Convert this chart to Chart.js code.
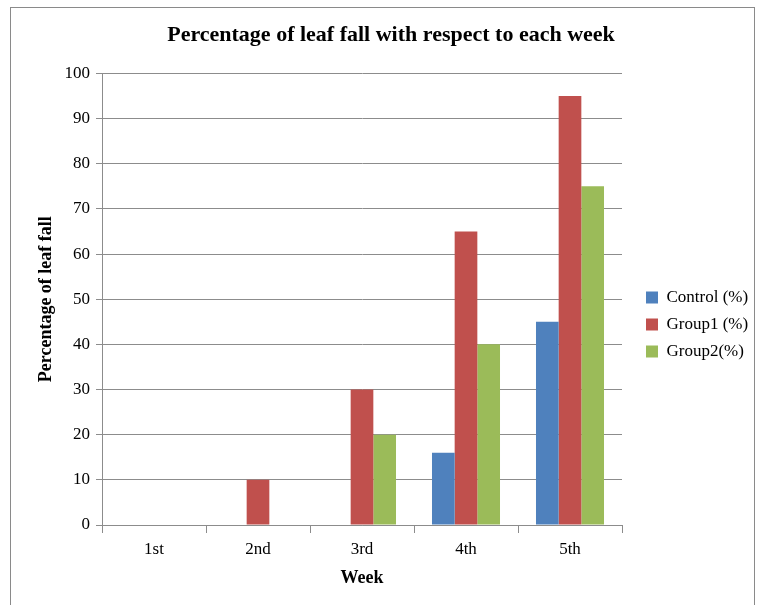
<!DOCTYPE html>
<html>
<head>
<meta charset="utf-8">
<script src="https://cdn.jsdelivr.net/npm/chart.js@4"></script>
<style>
  html, body { margin: 0; padding: 0; background: #fff; }
  #wrap { position: relative; width: 757px; height: 605px; overflow: hidden; }
  #frame { position: absolute; left: 10px; top: 7px; width: 743px; height: 640px; border: 1px solid #8a8a8a; }
  canvas { position: absolute; left: 0; top: 0; }
</style>
</head>
<body>
<div id="wrap">
  <div id="frame"></div>
  <canvas id="chart" width="757" height="605"></canvas>
</div>
<script>
const weeks = ['1st', '2nd', '3rd', '4th', '5th'];
const control = [0, 0, 0, 16, 45];
const group1 = [0, 10, 30, 65, 95];
const group2 = [0, 0, 20, 40, 75];

const SERIF = "'Liberation Serif', 'Times New Roman', serif";
const GRID = '#8c8c8c';

// push the legend block a little right and down from where the layout puts it
const legendNudge = {
  id: 'legendNudge',
  afterLayout(chart) {
    const l = chart.legend;
    if (!l) return;
    l.left += 1; l.right += 1;
    l.top += 20; l.bottom += 20;
  }
};

const config = {
  type: 'bar',
  data: {
    labels: weeks,
    datasets: [
      { label: 'Control (%)', data: control, backgroundColor: '#4f81bd' },
      { label: 'Group1 (%)', data: group1, backgroundColor: '#c0504d' },
      { label: 'Group2(%)', data: group2, backgroundColor: '#9bbb59' }
    ]
  },
  plugins: [legendNudge],
  options: {
    responsive: false,
    animation: false,
    devicePixelRatio: 1,
    datasets: {
      bar: { categoryPercentage: 0.654, barPercentage: 1, borderWidth: 0 }
    },
    layout: { padding: { top: 8, left: 25, right: 0, bottom: 4 } },
    plugins: {
      title: {
        display: true,
        text: 'Percentage of leaf fall with respect to each week',
        color: '#000',
        font: { family: SERIF, size: 22, weight: 'bold' },
        padding: { top: 14, bottom: 25 }
      },
      legend: {
        position: 'right',
        labels: {
          color: '#000',
          font: { family: SERIF, size: 17 },
          boxWidth: 12,
          boxHeight: 12,
          padding: 10
        }
      },
      tooltip: { enabled: false }
    },
    scales: {
      x: {
        grid: { drawOnChartArea: false, color: GRID, tickLength: 8, offset: true },
        border: { color: GRID },
        ticks: { color: '#000', font: { family: SERIF, size: 17 }, padding: 6 },
        title: {
          display: true,
          text: 'Week',
          color: '#000',
          font: { family: SERIF, size: 18, weight: 'bold' },
          padding: { top: 0, bottom: 12 }
        },
        afterFit(scale) { scale.height = 76; }
      },
      y: {
        min: 0,
        max: 100,
        ticks: { stepSize: 10, color: '#000', font: { family: SERIF, size: 17 }, padding: 6 },
        grid: { color: GRID, tickLength: 6 },
        border: { color: GRID },
        title: {
          display: true,
          text: 'Percentage of leaf fall',
          color: '#000',
          font: { family: SERIF, size: 18, weight: 'bold' },
          padding: { top: 11, bottom: 0 }
        },
        afterFit(scale) { scale.width = 77; }
      },
      // empty axis that keeps a gap between the plot and the legend
      gap: {
        type: 'linear',
        position: 'right',
        display: true,
        grid: { display: false },
        border: { display: false },
        ticks: { display: false },
        afterFit(scale) { scale.width = 13; }
      }
    }
  }
};

new Chart(document.getElementById('chart'), config);
</script>
</body>
</html>
